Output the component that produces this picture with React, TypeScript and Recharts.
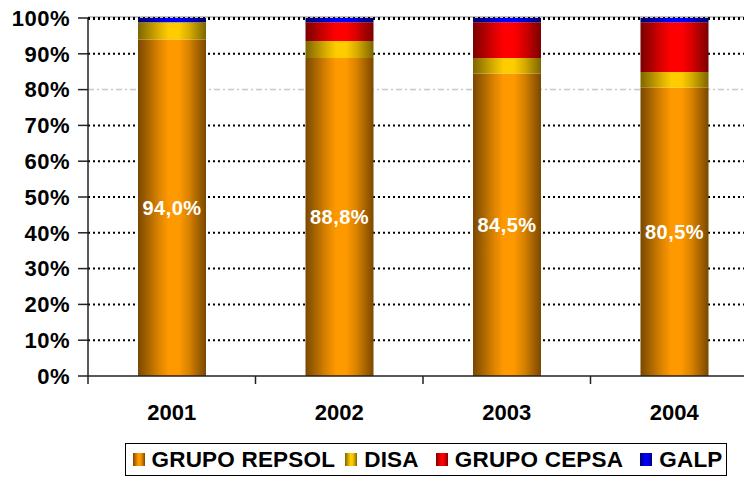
import React from 'react';
import { BarChart, Bar, XAxis, YAxis, CartesianGrid, LabelList } from 'recharts';

const categories = ['2001', '2002', '2003', '2004'];
const repsol = [94.0, 88.8, 84.5, 80.5];
const disa = [4.8, 4.8, 4.3, 4.4];
const cepsa = [0, 5.2, 10.0, 13.9];
const galp = [1.2, 1.2, 1.2, 1.2];
const yTicks = [0, 10, 20, 30, 40, 50, 60, 70, 80, 90, 100];

const seriesNames = ['GRUPO REPSOL', 'DISA', 'GRUPO CEPSA', 'GALP'];
const seriesKeys = ['repsol', 'disa', 'cepsa', 'galp'];
const seriesColors = [
  { dark: '#7a4800', mid: '#d98200', bright: '#ff9900' },
  { dark: '#7d6600', mid: '#d9ad00', bright: '#ffcc00' },
  { dark: '#7a0000', mid: '#d90000', bright: '#ff0000' },
  { dark: '#000070', mid: '#0000d0', bright: '#0000ff' },
];

const data = categories.map((c, i) => ({
  year: c,
  repsol: repsol[i],
  disa: disa[i],
  cepsa: cepsa[i],
  galp: galp[i],
}));

const FONT = '"Liberation Sans", Arial, sans-serif';

const fmtPct = (v: any) => `${Number(v).toFixed(1).replace('.', ',')}%`;

const XTick = (props: any) => {
  const { x, y, payload, width } = props;
  const band = (width || 670) / categories.length;
  const left = x - band / 2;
  return (
    <g>
      <line x1={left} x2={left} y1={y - 8} y2={y} stroke="#222" strokeWidth={1.5} />
      <text
        x={x}
        y={y + 36}
        textAnchor="middle"
        fontFamily={FONT}
        fontWeight="bold"
        fontSize={22}
        fill="#000"
      >
        {payload.value}
      </text>
    </g>
  );
};

const GridLine = (props: any) => {
  const { x1, x2, y1, y2, index } = props;
  if (index === 0) return <g key={props.key} />;
  if (index === 8) {
    return (
      <line key={props.key} x1={x1} x2={x2} y1={y1} y2={y2} stroke="#c8c8c8" strokeWidth={1.5} strokeDasharray="6 3 2 3" />
    );
  }
  return (
    <g key={props.key}>
      {index === 10 && <line x1={x1} x2={x2} y1={y1 - 1} y2={y2 - 1} stroke="#888" strokeWidth={1} />}
      <line x1={x1} x2={x2} y1={y1 + (index === 10 ? 1 : 0)} y2={y2 + (index === 10 ? 1 : 0)} stroke="#000" strokeWidth={2} strokeDasharray="2 3" />
    </g>
  );
};

const cssGrad = (c: { dark: string; mid: string; bright: string }) =>
  `linear-gradient(to right, ${c.dark} 0%, ${c.mid} 30%, ${c.bright} 45%, ${c.bright} 60%, ${c.mid} 75%, ${c.dark} 100%)`;

export default function App() {
  return (
    <div style={{ position: 'absolute', left: 0, top: 0, width: 744, height: 477, overflow: 'hidden', background: '#fff' }}>
      <BarChart
        width={760}
        height={477}
        data={data}
        margin={{ top: 18, right: 2, left: 0, bottom: 41 }}
        barCategoryGap={0}
      >
        <defs>
          {seriesColors.map((c, i) => (
            <linearGradient key={i} id={`grad${i}`} x1="0" y1="0" x2="1" y2="0">
              <stop offset="0%" stopColor={c.dark} />
              <stop offset="30%" stopColor={c.mid} />
              <stop offset="45%" stopColor={c.bright} />
              <stop offset="60%" stopColor={c.bright} />
              <stop offset="75%" stopColor={c.mid} />
              <stop offset="100%" stopColor={c.dark} />
            </linearGradient>
          ))}
        </defs>
        <CartesianGrid vertical={false} horizontal={GridLine as any} />
        <XAxis
          dataKey="year"
          tickLine={false}
          tickSize={8}
          tickMargin={0}
          height={60}
          axisLine={{ stroke: '#222', strokeWidth: 1.5 }}
          tick={<XTick />}
          interval={0}
        />
        <YAxis
          width={88}
          domain={[0, 100]}
          ticks={yTicks}
          tickFormatter={(v: number) => `${v}%`}
          tickSize={10}
          tickMargin={8}
          axisLine={{ stroke: '#222', strokeWidth: 1.5 }}
          tickLine={{ stroke: '#222', strokeWidth: 1.5 }}
          tick={{ fontFamily: FONT, fontWeight: 'bold', fontSize: 22, fill: '#000', letterSpacing: 0.5 } as any}
          interval={0}
        />
        {seriesKeys.map((k, i) => (
          <Bar
            key={k}
            dataKey={k}
            stackId="a"
            fill={`url(#grad${i})`}
            barSize={68}
            isAnimationActive={false}
          >
            {i === 0 && (
              <LabelList
                dataKey={k}
                position="center"
                formatter={fmtPct}
                fill="#fff"
                fontFamily={FONT}
                fontWeight="bold"
                fontSize={20}
                style={{ letterSpacing: 0.5 } as any}
              />
            )}
          </Bar>
        ))}
      </BarChart>
      <div
        style={{
          position: 'absolute',
          left: 125,
          top: 443,
          width: 602,
          height: 33,
          boxSizing: 'border-box',
          border: '1.5px solid #000',
          display: 'flex',
          alignItems: 'center',
          paddingLeft: 6.5,
          fontFamily: FONT,
          fontWeight: 'bold',
          fontSize: 22.5,
          letterSpacing: 0.2,
          color: '#000',
          whiteSpace: 'nowrap',
        }}
      >
        {seriesNames.map((n, i) => (
          <div key={n} style={{ display: 'flex', alignItems: 'center', marginRight: i === 0 ? 10 : 17 }}>
            <div style={{ width: 12, height: 13, background: cssGrad(seriesColors[i]), marginRight: 7 }} />
            <span>{n}</span>
          </div>
        ))}
      </div>
    </div>
  );
}
